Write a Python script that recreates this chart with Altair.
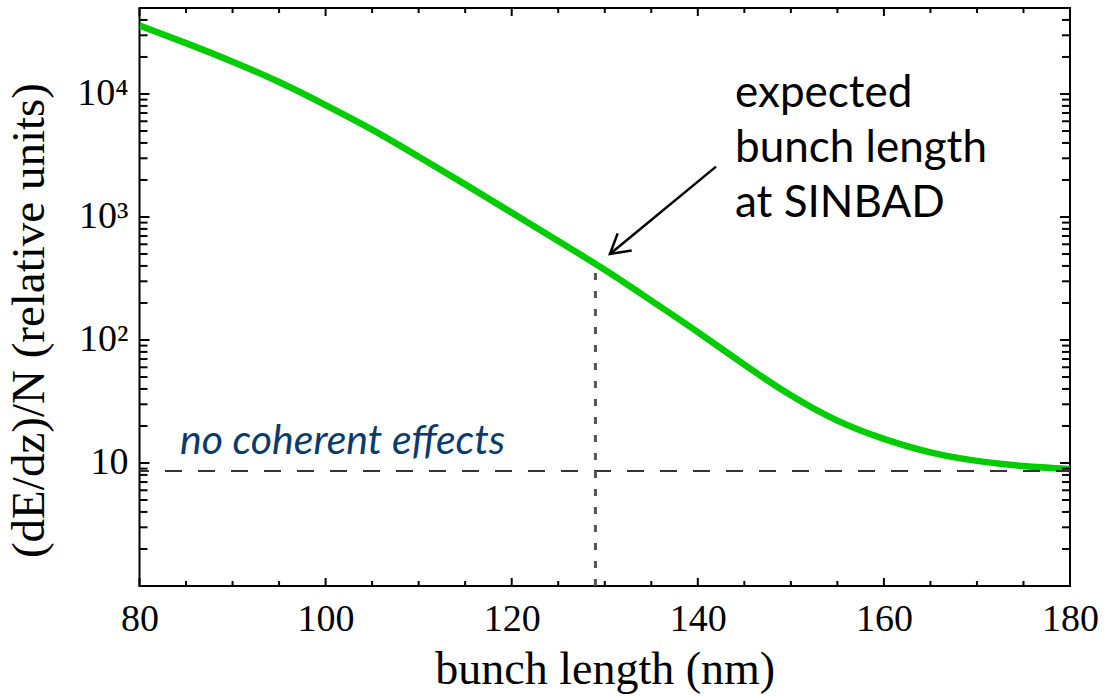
import altair as alt
import pandas as pd

# ---- data ----
bunch_length = [80, 85, 90, 95, 100, 105, 110, 115, 120, 125, 130, 135, 140, 145,
                150, 155, 160, 165, 170, 175, 180]
dEdz_per_N = [36000, 25900, 18300, 12500, 8130, 5130, 3090, 1840, 1085, 638,
              372, 209, 116, 63, 35.5, 22.1, 15.7, 12.2, 10.4, 9.44, 8.93]

no_coherent_level = 8.6
sinbad_length = 129
sinbad_value = 406

x_major = [80, 100, 120, 140, 160, 180]
x_minor = [v for v in range(80, 181, 5) if v % 20 != 0]
y_major = [10, 100, 1000, 10000]
y_minor = [m * d for d in [1, 10, 100, 1000] for m in range(2, 10)] + [20000, 30000, 40000]

y_tick_labels = {10: "10", 100: "10²", 1000: "10³", 10000: "10⁴"}

annot_lines = ["expected", "bunch length", "at SINBAD"]
annot_pos = (144.0, 7910)
arrow_from = (141.96, 2566)
arrow_to = (130.56, 500)
nce_text = "no coherent effects"
nce_pos = (84.35, 11.9)

W, H = 930.5, 578
SERIF = "Liberation Serif"

x_scale = alt.Scale(domain=[80, 180], nice=False, zero=False)
y_scale = alt.Scale(type="log", domain=[1, 50000], nice=False)

label_expr = " : ".join(
    [f"datum.value == {k} ? '{v}'" for k, v in y_tick_labels.items()]) + " : ''"

x_axis = alt.Axis(values=x_major, format="d", ticks=False, tickSize=0, domain=False,
                  grid=False, labelFont=SERIF, labelFontSize=38, labelColor="black",
                  labelPadding=44, labelBaseline="alphabetic", labelFlush=False,
                  title="bunch length (nm)", titleFont=SERIF, titleFontSize=46,
                  titleFontWeight="normal", titleColor="black", titleY=97,
                  titleBaseline="alphabetic")
y_axis = alt.Axis(values=y_major, labelExpr=label_expr, ticks=False, tickSize=0,
                  domain=False, grid=False, labelFont=SERIF, labelFontSize=38,
                  labelColor="black", labelPadding=11.5, labelAlign="right",
                  labelBaseline="middle", title="(dE/dz)/N (relative units)",
                  titleFont=SERIF, titleFontSize=47, titleFontWeight="normal",
                  titleColor="black", titleX=-96, titleY=312, titleAngle=270,
                  titleBaseline="alphabetic", titleAlign="center")


def X(field="x"):
    return alt.X(f"{field}:Q", scale=x_scale, axis=x_axis)


def Y(field="y"):
    return alt.Y(f"{field}:Q", scale=y_scale, axis=y_axis)


curve_df = pd.DataFrame({"x": bunch_length, "y": dEdz_per_N})
curve = alt.Chart(curve_df).mark_line(color="#00CC00", strokeWidth=6.5,
                                      interpolate="natural", clip=True).encode(x=X(), y=Y())

hline = alt.Chart(pd.DataFrame({"x": [80], "x2": [180], "y": [no_coherent_level]})).mark_rule(
    color="#333333", strokeWidth=2, strokeDash=[17, 16], strokeDashOffset=7.5
).encode(x=X(), x2="x2:Q", y=Y())

vline = alt.Chart(pd.DataFrame({"x": [sinbad_length], "y": [1], "y2": [sinbad_value]})).mark_rule(
    color="#555555", strokeWidth=3, strokeDash=[7, 11]
).encode(x=X(), y=Y(), y2="y2:Q")

arrow_df = pd.DataFrame({"x": [arrow_from[0], arrow_to[0]], "y": [arrow_from[1], arrow_to[1]],
                         "o": [0, 1]})
arrow_line = alt.Chart(arrow_df).mark_line(color="black", strokeWidth=2.5).encode(
    x=X(), y=Y(), order="o:Q")
arrow_head = alt.Chart(pd.DataFrame({"x": [arrow_to[0]], "y": [arrow_to[1]]})).mark_point(
    shape="M-0.58,1 L0,0 L0.58,1", size=1450, angle=230.6, filled=False,
    color="black", strokeWidth=2.5, opacity=1
).encode(x=X(), y=Y())

annot = alt.Chart(pd.DataFrame({"x": [annot_pos[0]], "y": [annot_pos[1]],
                                "t": [annot_lines]})).mark_text(
    align="left", baseline="alphabetic", font="Lato", fontSize=44, lineHeight=55,
    color="black"
).encode(x=X(), y=Y(), text="t")

nce = alt.Chart(pd.DataFrame({"x": [nce_pos[0]], "y": [nce_pos[1]], "t": [nce_text]})).mark_text(
    align="left", baseline="alphabetic", font="Lato", fontStyle="italic", fontSize=41,
    color="#0B3A6B"
).encode(x=X(), y=Y(), text="t")


def xticks(vals, length):
    df = pd.DataFrame({"x": vals})
    b = alt.Chart(df).mark_rule(color="black", strokeWidth=2).encode(
        x=X(), y=alt.value(H), y2=alt.value(H - length))
    t = alt.Chart(df).mark_rule(color="black", strokeWidth=2).encode(
        x=X(), y=alt.value(0), y2=alt.value(length))
    return [b, t]


def yticks(vals, length):
    df = pd.DataFrame({"y": vals})
    l = alt.Chart(df).mark_rule(color="black", strokeWidth=2).encode(
        y=Y(), x=alt.value(0), x2=alt.value(length))
    r = alt.Chart(df).mark_rule(color="black", strokeWidth=2).encode(
        y=Y(), x=alt.value(W), x2=alt.value(W - length))
    return [l, r]


layers = [curve, hline, vline, arrow_line, arrow_head, annot, nce]
layers += xticks(x_major, 8) + xticks(x_minor, 5)
layers += yticks(y_major, 10) + yticks(y_minor, 8)

chart = alt.layer(*layers).properties(
    width=W, height=H, autosize="none", background="white",
    padding={"left": 139.5, "top": 8, "right": 35, "bottom": 111}
).configure_view(stroke="black", strokeWidth=2)

chart.save("out.html", embed_options={"renderer": "svg", "actions": False})
